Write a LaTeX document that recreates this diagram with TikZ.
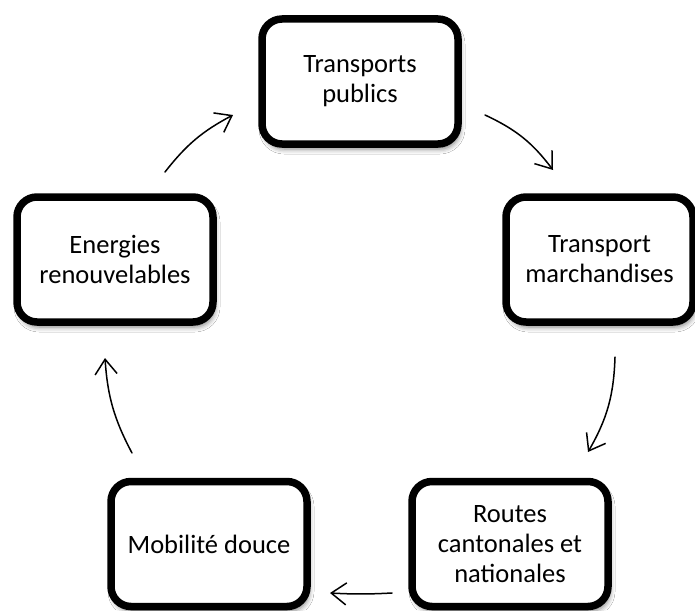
\documentclass[tikz,border=0pt]{standalone}
\usepackage{fontspec}
\setmainfont{Carlito}
\usetikzlibrary{arrows.meta,shadows.blur}
\begin{document}
\begin{tikzpicture}[x=1pt,y=-1pt,
  box/.style={draw=black, line width=7.5pt, rounded corners=20pt, fill=white,
    align=center, minimum width=196pt, minimum height=125pt, inner sep=0pt,
    font=\fontsize{26.5}{30}\selectfont,
    blur shadow={shadow xshift=2pt, shadow yshift=-5pt,
      shadow blur radius=5pt, shadow opacity=50}},
  flow/.style={line width=1.5pt, line cap=round,
    -{Straight Barb[length=15pt,width=22pt]}}]

  % page
  \fill[white] (0,0) rectangle (695,610);
  \useasboundingbox (0,0) rectangle (695,610);

  % the five stages of the cycle
  \node[box] (tp) at (360,81.5) {Transports\\publics};
  \node[box, minimum width=187pt] (tm) at (599.5,259.5) {Transport\\marchandises};
  \node[box] (rc) at (510,544) {Routes\\cantonales et\\nationales};
  \node[box] (md) at (209,544) {Mobilité douce};
  \node[box] (er) at (115,259.5) {Energies\\renouvelables};

  % free ends of the connectors
  \coordinate (er-out) at (165,172);
  \coordinate (tp-in)  at (233,115);
  \coordinate (tp-out) at (485,115);
  \coordinate (tm-in)  at (553,170);
  \coordinate (tm-out) at (615,357);
  \coordinate (rc-in)  at (588,452);
  \coordinate (rc-out) at (392,593);
  \coordinate (md-in)  at (330,593);
  \coordinate (md-out) at (132,453);
  \coordinate (er-in)  at (105,358);

  % connectors, clockwise
  \draw[flow] (er-out) to[bend left=12] (tp-in);
  \draw[flow] (tp-out) to[bend left=14] (tm-in);
  \draw[flow] (tm-out) to[bend left=14] (rc-in);
  \draw[flow] (rc-out) to[bend left=3] (md-in);
  \draw[flow] (md-out) to[bend left=12] (er-in);
\end{tikzpicture}
\end{document}
